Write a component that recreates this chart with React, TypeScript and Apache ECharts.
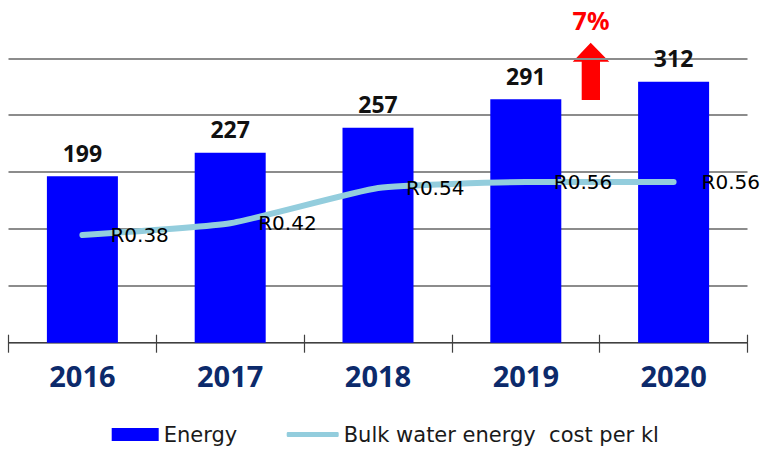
import React, { useEffect, useRef } from "react";
import * as echarts from "echarts";

const years = ["2016", "2017", "2018", "2019", "2020"];
const energyValues = [199, 227, 257, 291, 312];
const costPerKl = [0.38, 0.42, 0.54, 0.56, 0.56];
const growthLabel = "7%";
const energyName = "Energy";
const costName = "Bulk water energy  cost per kl";

export default function App() {
  const ref = useRef<HTMLDivElement>(null);
  useEffect(() => {
    if (!ref.current) return;
    const chart = echarts.init(ref.current, null, { renderer: "svg" });
    chart.setOption({
      animation: false,
      backgroundColor: "#ffffff",
      grid: { left: 8.5, right: 17.5, top: 58.3, bottom: 107.3, containLabel: false },
      legend: [
        {
          data: [energyName],
          left: 111.7,
          top: 424,
          padding: 0,
          itemWidth: 47,
          itemHeight: 13,
          icon: "rect",
          textStyle: { fontFamily: "DejaVu Sans", fontSize: 21, color: "#1a1a1a" },
        },
        {
          data: [costName],
          left: 286.7,
          top: 424,
          padding: 0,
          itemWidth: 52,
          itemHeight: 5,
          icon: "roundRect",
          textStyle: { fontFamily: "DejaVu Sans", fontSize: 21, color: "#1a1a1a" },
        },
      ],
      xAxis: [
        {
          type: "category",
          data: years,
          axisLine: { show: true, lineStyle: { color: "#404040", width: 1.2 } },
          axisTick: { show: true, length: 10, lineStyle: { color: "#404040", width: 1.2 } },
          axisLabel: {
            fontFamily: "Noto Sans",
            fontWeight: "bold",
            fontSize: 29,
            color: "#0c2a6b",
            margin: 18,
          },
          splitLine: { show: false },
        },
        {
          type: "category",
          data: years,
          position: "bottom",
          axisLine: { show: false },
          axisTick: { show: true, inside: true, length: 8, lineStyle: { color: "#404040", width: 1.2 } },
          axisLabel: { show: false },
          splitLine: { show: false },
        },
      ],
      yAxis: [
        {
          type: "value",
          min: 0,
          max: 340,
          interval: 68,
          axisLine: { show: false },
          axisTick: { show: false },
          axisLabel: { show: false },
          splitLine: { show: true, lineStyle: { color: "#8c8c8c", width: 2 } },
        },
        {
          type: "value",
          min: 0.0137,
          max: 0.981,
          show: false,
          splitLine: { show: false },
        },
      ],
      series: [
        {
          name: energyName,
          type: "bar",
          data: energyValues,
          barWidth: 71,
          itemStyle: { color: "#0000ff" },
          label: {
            show: true,
            position: "top",
            distance: 12,
            fontFamily: "Noto Sans",
            fontWeight: "bold",
            fontSize: 23,
            color: "#111111",
          },
          z: 2,
        },
        {
          name: costName,
          type: "line",
          yAxisIndex: 1,
          data: costPerKl,
          smooth: 0.15,
          symbol: "circle",
          symbolSize: 2,
          showSymbol: true,
          lineStyle: { color: "#93cddd", width: 6, cap: "round" },
          itemStyle: { color: "#93cddd" },
          label: {
            show: true,
            position: "right",
            distance: 27,
            fontFamily: "DejaVu Sans",
            fontSize: 20,
            color: "#000000",
            formatter: (p: any) => "R" + Number(p.value).toFixed(2),
          },
          z: 3,
        },
      ],
      graphic: [
        {
          type: "polygon",
          shape: {
            points: [
              [572.7, 61.7],
              [590.7, 42.7],
              [609.3, 61.7],
              [600, 61.7],
              [600, 100],
              [581.7, 100],
              [581.7, 61.7],
            ],
          },
          style: { fill: "#ff0000" },
        },
        {
          type: "text",
          x: 591,
          y: 20,
          style: {
            text: growthLabel,
            fill: "#ff0000",
            fontFamily: "Noto Sans",
            fontWeight: "bold",
            fontSize: 25,
            align: "center",
            verticalAlign: "middle",
          },
        },
      ],
    });
    return () => chart.dispose();
  }, []);
  return (
    <div
      ref={ref}
      style={{ position: "fixed", left: 0, top: 0, width: 765, height: 450 }}
    />
  );
}
